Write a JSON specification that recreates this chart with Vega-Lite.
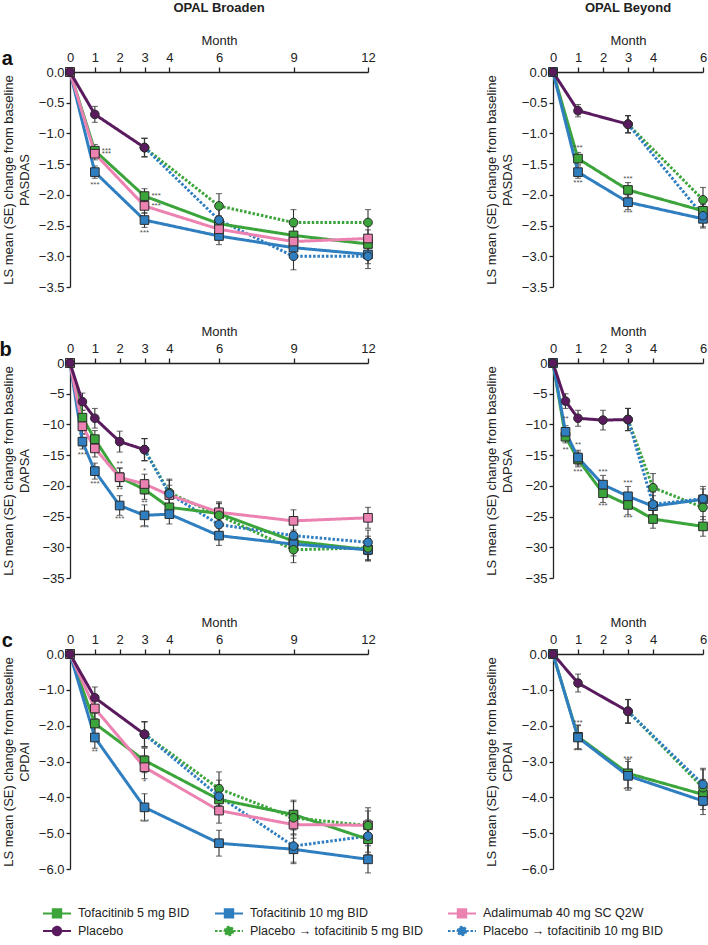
{
"$schema": "https://vega.github.io/schema/vega-lite/v6.json",
"background": "white",
"autosize": {"type": "none"},
"padding": {"left": 70, "top": 72, "right": 638, "bottom": 873},
"data": {"values": [
{"outcome":"PASDAS","study":"Broaden","group":"PT5","month":3,"mean":-1.23,"se":0.15},
{"outcome":"PASDAS","study":"Broaden","group":"PT5","month":6,"mean":-2.18,"se":0.2},
{"outcome":"PASDAS","study":"Broaden","group":"PT5","month":9,"mean":-2.45,"se":0.21},
{"outcome":"PASDAS","study":"Broaden","group":"PT5","month":12,"mean":-2.45,"se":0.21},
{"outcome":"PASDAS","study":"Broaden","group":"PT10","month":3,"mean":-1.23,"se":0.15},
{"outcome":"PASDAS","study":"Broaden","group":"PT10","month":6,"mean":-2.41,"se":0.2},
{"outcome":"PASDAS","study":"Broaden","group":"PT10","month":9,"mean":-3.0,"se":0.22},
{"outcome":"PASDAS","study":"Broaden","group":"PT10","month":12,"mean":-3.0,"se":0.2},
{"outcome":"PASDAS","study":"Broaden","group":"T5","month":0,"mean":0,"se":0},
{"outcome":"PASDAS","study":"Broaden","group":"T5","month":1,"mean":-1.28,"se":0.1,"sig":"***"},
{"outcome":"PASDAS","study":"Broaden","group":"T5","month":3,"mean":-2.02,"se":0.12,"sig":"***"},
{"outcome":"PASDAS","study":"Broaden","group":"T5","month":6,"mean":-2.47,"se":0.13},
{"outcome":"PASDAS","study":"Broaden","group":"T5","month":9,"mean":-2.66,"se":0.14},
{"outcome":"PASDAS","study":"Broaden","group":"T5","month":12,"mean":-2.8,"se":0.15},
{"outcome":"PASDAS","study":"Broaden","group":"T10","month":0,"mean":0,"se":0},
{"outcome":"PASDAS","study":"Broaden","group":"T10","month":1,"mean":-1.63,"se":0.1,"sig":"***"},
{"outcome":"PASDAS","study":"Broaden","group":"T10","month":3,"mean":-2.41,"se":0.12,"sig":"***"},
{"outcome":"PASDAS","study":"Broaden","group":"T10","month":6,"mean":-2.67,"se":0.14},
{"outcome":"PASDAS","study":"Broaden","group":"T10","month":9,"mean":-2.86,"se":0.15},
{"outcome":"PASDAS","study":"Broaden","group":"T10","month":12,"mean":-2.97,"se":0.15},
{"outcome":"PASDAS","study":"Broaden","group":"ADA","month":0,"mean":0,"se":0},
{"outcome":"PASDAS","study":"Broaden","group":"ADA","month":1,"mean":-1.33,"se":0.1,"sig":"***"},
{"outcome":"PASDAS","study":"Broaden","group":"ADA","month":3,"mean":-2.18,"se":0.12,"sig":"***"},
{"outcome":"PASDAS","study":"Broaden","group":"ADA","month":6,"mean":-2.56,"se":0.13},
{"outcome":"PASDAS","study":"Broaden","group":"ADA","month":9,"mean":-2.76,"se":0.14},
{"outcome":"PASDAS","study":"Broaden","group":"ADA","month":12,"mean":-2.71,"se":0.14},
{"outcome":"PASDAS","study":"Broaden","group":"PBO","month":0,"mean":0,"se":0},
{"outcome":"PASDAS","study":"Broaden","group":"PBO","month":1,"mean":-0.69,"se":0.13},
{"outcome":"PASDAS","study":"Broaden","group":"PBO","month":3,"mean":-1.23,"se":0.15},

{"outcome":"PASDAS","study":"Beyond","group":"PT5","month":3,"mean":-0.85,"se":0.14},
{"outcome":"PASDAS","study":"Beyond","group":"PT5","month":6,"mean":-2.08,"se":0.2},
{"outcome":"PASDAS","study":"Beyond","group":"PT10","month":3,"mean":-0.85,"se":0.14},
{"outcome":"PASDAS","study":"Beyond","group":"PT10","month":6,"mean":-2.34,"se":0.18},
{"outcome":"PASDAS","study":"Beyond","group":"T5","month":0,"mean":0,"se":0},
{"outcome":"PASDAS","study":"Beyond","group":"T5","month":1,"mean":-1.41,"se":0.1,"sig":"***"},
{"outcome":"PASDAS","study":"Beyond","group":"T5","month":3,"mean":-1.92,"se":0.12,"sig":"***"},
{"outcome":"PASDAS","study":"Beyond","group":"T5","month":6,"mean":-2.26,"se":0.14},
{"outcome":"PASDAS","study":"Beyond","group":"T10","month":0,"mean":0,"se":0},
{"outcome":"PASDAS","study":"Beyond","group":"T10","month":1,"mean":-1.63,"se":0.1,"sig":"***"},
{"outcome":"PASDAS","study":"Beyond","group":"T10","month":3,"mean":-2.12,"se":0.12,"sig":"***"},
{"outcome":"PASDAS","study":"Beyond","group":"T10","month":6,"mean":-2.39,"se":0.15},
{"outcome":"PASDAS","study":"Beyond","group":"PBO","month":0,"mean":0,"se":0},
{"outcome":"PASDAS","study":"Beyond","group":"PBO","month":1,"mean":-0.63,"se":0.1},
{"outcome":"PASDAS","study":"Beyond","group":"PBO","month":3,"mean":-0.85,"se":0.14},

{"outcome":"DAPSA","study":"Broaden","group":"PT5","month":3,"mean":-14.1,"se":1.8},
{"outcome":"DAPSA","study":"Broaden","group":"PT5","month":4,"mean":-21.1,"se":2.2},
{"outcome":"DAPSA","study":"Broaden","group":"PT5","month":6,"mean":-24.8,"se":2.0},
{"outcome":"DAPSA","study":"Broaden","group":"PT5","month":9,"mean":-30.4,"se":2.1},
{"outcome":"DAPSA","study":"Broaden","group":"PT5","month":12,"mean":-30.1,"se":1.9},
{"outcome":"DAPSA","study":"Broaden","group":"PT10","month":3,"mean":-14.1,"se":1.8},
{"outcome":"DAPSA","study":"Broaden","group":"PT10","month":4,"mean":-21.3,"se":2.2},
{"outcome":"DAPSA","study":"Broaden","group":"PT10","month":6,"mean":-26.3,"se":2.0},
{"outcome":"DAPSA","study":"Broaden","group":"PT10","month":9,"mean":-28.1,"se":2.0},
{"outcome":"DAPSA","study":"Broaden","group":"PT10","month":12,"mean":-29.2,"se":2.0},
{"outcome":"DAPSA","study":"Broaden","group":"T5","month":0,"mean":0,"se":0},
{"outcome":"DAPSA","study":"Broaden","group":"T5","month":0.5,"mean":-8.9,"se":1.2},
{"outcome":"DAPSA","study":"Broaden","group":"T5","month":1,"mean":-12.4,"se":1.4},
{"outcome":"DAPSA","study":"Broaden","group":"T5","month":2,"mean":-18.6,"se":1.5,"sig":"**"},
{"outcome":"DAPSA","study":"Broaden","group":"T5","month":3,"mean":-20.6,"se":1.6,"sig":"**"},
{"outcome":"DAPSA","study":"Broaden","group":"T5","month":4,"mean":-23.5,"se":1.6},
{"outcome":"DAPSA","study":"Broaden","group":"T5","month":6,"mean":-24.5,"se":1.6},
{"outcome":"DAPSA","study":"Broaden","group":"T5","month":9,"mean":-29.0,"se":1.8},
{"outcome":"DAPSA","study":"Broaden","group":"T5","month":12,"mean":-30.4,"se":1.8},
{"outcome":"DAPSA","study":"Broaden","group":"T10","month":0,"mean":0,"se":0},
{"outcome":"DAPSA","study":"Broaden","group":"T10","month":0.5,"mean":-12.8,"se":1.2,"sig":"***"},
{"outcome":"DAPSA","study":"Broaden","group":"T10","month":1,"mean":-17.6,"se":1.3,"sig":"***"},
{"outcome":"DAPSA","study":"Broaden","group":"T10","month":2,"mean":-23.2,"se":1.6,"sig":"***"},
{"outcome":"DAPSA","study":"Broaden","group":"T10","month":3,"mean":-24.8,"se":1.7,"sig":"***"},
{"outcome":"DAPSA","study":"Broaden","group":"T10","month":4,"mean":-24.6,"se":1.6},
{"outcome":"DAPSA","study":"Broaden","group":"T10","month":6,"mean":-28.1,"se":1.6},
{"outcome":"DAPSA","study":"Broaden","group":"T10","month":9,"mean":-29.5,"se":1.9},
{"outcome":"DAPSA","study":"Broaden","group":"T10","month":12,"mean":-30.4,"se":1.8},
{"outcome":"DAPSA","study":"Broaden","group":"ADA","month":0,"mean":0,"se":0},
{"outcome":"DAPSA","study":"Broaden","group":"ADA","month":0.5,"mean":-10.3,"se":1.2},
{"outcome":"DAPSA","study":"Broaden","group":"ADA","month":1,"mean":-13.9,"se":1.4},
{"outcome":"DAPSA","study":"Broaden","group":"ADA","month":2,"mean":-18.6,"se":1.5,"sig":"**"},
{"outcome":"DAPSA","study":"Broaden","group":"ADA","month":3,"mean":-19.7,"se":1.6,"sig":"*"},
{"outcome":"DAPSA","study":"Broaden","group":"ADA","month":4,"mean":-21.5,"se":1.6},
{"outcome":"DAPSA","study":"Broaden","group":"ADA","month":6,"mean":-24.3,"se":1.7},
{"outcome":"DAPSA","study":"Broaden","group":"ADA","month":9,"mean":-25.7,"se":1.8},
{"outcome":"DAPSA","study":"Broaden","group":"ADA","month":12,"mean":-25.2,"se":1.7},
{"outcome":"DAPSA","study":"Broaden","group":"PBO","month":0,"mean":0,"se":0},
{"outcome":"DAPSA","study":"Broaden","group":"PBO","month":0.5,"mean":-6.3,"se":1.4},
{"outcome":"DAPSA","study":"Broaden","group":"PBO","month":1,"mean":-9.0,"se":1.6},
{"outcome":"DAPSA","study":"Broaden","group":"PBO","month":2,"mean":-12.8,"se":1.7},
{"outcome":"DAPSA","study":"Broaden","group":"PBO","month":3,"mean":-14.1,"se":1.8},

{"outcome":"DAPSA","study":"Beyond","group":"PT5","month":3,"mean":-9.2,"se":1.8},
{"outcome":"DAPSA","study":"Beyond","group":"PT5","month":4,"mean":-20.3,"se":2.3},
{"outcome":"DAPSA","study":"Beyond","group":"PT5","month":6,"mean":-23.5,"se":2.0},
{"outcome":"DAPSA","study":"Beyond","group":"PT10","month":3,"mean":-9.2,"se":1.8},
{"outcome":"DAPSA","study":"Beyond","group":"PT10","month":4,"mean":-23.0,"se":2.0},
{"outcome":"DAPSA","study":"Beyond","group":"PT10","month":6,"mean":-22.1,"se":2.0},
{"outcome":"DAPSA","study":"Beyond","group":"T5","month":0,"mean":0,"se":0},
{"outcome":"DAPSA","study":"Beyond","group":"T5","month":0.5,"mean":-12.0,"se":1.0,"sig":"**"},
{"outcome":"DAPSA","study":"Beyond","group":"T5","month":1,"mean":-15.7,"se":1.2,"sig":"***"},
{"outcome":"DAPSA","study":"Beyond","group":"T5","month":2,"mean":-21.2,"se":1.5,"sig":"***"},
{"outcome":"DAPSA","study":"Beyond","group":"T5","month":3,"mean":-23.1,"se":1.6,"sig":"***"},
{"outcome":"DAPSA","study":"Beyond","group":"T5","month":4,"mean":-25.4,"se":1.5},
{"outcome":"DAPSA","study":"Beyond","group":"T5","month":6,"mean":-26.6,"se":1.6},
{"outcome":"DAPSA","study":"Beyond","group":"T10","month":0,"mean":0,"se":0},
{"outcome":"DAPSA","study":"Beyond","group":"T10","month":0.5,"mean":-11.2,"se":1.0,"sig":"**"},
{"outcome":"DAPSA","study":"Beyond","group":"T10","month":1,"mean":-15.4,"se":1.2,"sig":"**"},
{"outcome":"DAPSA","study":"Beyond","group":"T10","month":2,"mean":-19.8,"se":1.5,"sig":"***"},
{"outcome":"DAPSA","study":"Beyond","group":"T10","month":3,"mean":-21.7,"se":1.6,"sig":"***"},
{"outcome":"DAPSA","study":"Beyond","group":"T10","month":4,"mean":-23.3,"se":1.7},
{"outcome":"DAPSA","study":"Beyond","group":"T10","month":6,"mean":-22.2,"se":1.7},
{"outcome":"DAPSA","study":"Beyond","group":"PBO","month":0,"mean":0,"se":0},
{"outcome":"DAPSA","study":"Beyond","group":"PBO","month":0.5,"mean":-6.2,"se":1.2},
{"outcome":"DAPSA","study":"Beyond","group":"PBO","month":1,"mean":-9.0,"se":1.3},
{"outcome":"DAPSA","study":"Beyond","group":"PBO","month":2,"mean":-9.3,"se":1.6},
{"outcome":"DAPSA","study":"Beyond","group":"PBO","month":3,"mean":-9.2,"se":1.8},

{"outcome":"CPDAI","study":"Broaden","group":"PT5","month":3,"mean":-2.24,"se":0.35},
{"outcome":"CPDAI","study":"Broaden","group":"PT5","month":6,"mean":-3.76,"se":0.47},
{"outcome":"CPDAI","study":"Broaden","group":"PT5","month":9,"mean":-4.57,"se":0.45},
{"outcome":"CPDAI","study":"Broaden","group":"PT5","month":12,"mean":-4.79,"se":0.5},
{"outcome":"CPDAI","study":"Broaden","group":"PT10","month":3,"mean":-2.24,"se":0.35},
{"outcome":"CPDAI","study":"Broaden","group":"PT10","month":6,"mean":-3.97,"se":0.45},
{"outcome":"CPDAI","study":"Broaden","group":"PT10","month":9,"mean":-5.36,"se":0.45},
{"outcome":"CPDAI","study":"Broaden","group":"PT10","month":12,"mean":-5.08,"se":0.45},
{"outcome":"CPDAI","study":"Broaden","group":"T5","month":0,"mean":0,"se":0},
{"outcome":"CPDAI","study":"Broaden","group":"T5","month":1,"mean":-1.94,"se":0.28},
{"outcome":"CPDAI","study":"Broaden","group":"T5","month":3,"mean":-2.97,"se":0.34},
{"outcome":"CPDAI","study":"Broaden","group":"T5","month":6,"mean":-4.06,"se":0.4},
{"outcome":"CPDAI","study":"Broaden","group":"T5","month":9,"mean":-4.48,"se":0.4},
{"outcome":"CPDAI","study":"Broaden","group":"T5","month":12,"mean":-5.17,"se":0.42},
{"outcome":"CPDAI","study":"Broaden","group":"T10","month":0,"mean":0,"se":0},
{"outcome":"CPDAI","study":"Broaden","group":"T10","month":1,"mean":-2.33,"se":0.3,"sig":"**"},
{"outcome":"CPDAI","study":"Broaden","group":"T10","month":3,"mean":-4.28,"se":0.38,"sig":"***"},
{"outcome":"CPDAI","study":"Broaden","group":"T10","month":6,"mean":-5.28,"se":0.36},
{"outcome":"CPDAI","study":"Broaden","group":"T10","month":9,"mean":-5.45,"se":0.4},
{"outcome":"CPDAI","study":"Broaden","group":"T10","month":12,"mean":-5.73,"se":0.38},
{"outcome":"CPDAI","study":"Broaden","group":"ADA","month":0,"mean":0,"se":0},
{"outcome":"CPDAI","study":"Broaden","group":"ADA","month":1,"mean":-1.52,"se":0.28},
{"outcome":"CPDAI","study":"Broaden","group":"ADA","month":3,"mean":-3.16,"se":0.32,"sig":"*"},
{"outcome":"CPDAI","study":"Broaden","group":"ADA","month":6,"mean":-4.37,"se":0.35},
{"outcome":"CPDAI","study":"Broaden","group":"ADA","month":9,"mean":-4.76,"se":0.38},
{"outcome":"CPDAI","study":"Broaden","group":"ADA","month":12,"mean":-4.78,"se":0.4},
{"outcome":"CPDAI","study":"Broaden","group":"PBO","month":0,"mean":0,"se":0},
{"outcome":"CPDAI","study":"Broaden","group":"PBO","month":1,"mean":-1.22,"se":0.3},
{"outcome":"CPDAI","study":"Broaden","group":"PBO","month":3,"mean":-2.24,"se":0.35},

{"outcome":"CPDAI","study":"Beyond","group":"PT5","month":3,"mean":-1.6,"se":0.33},
{"outcome":"CPDAI","study":"Beyond","group":"PT5","month":6,"mean":-3.73,"se":0.5},
{"outcome":"CPDAI","study":"Beyond","group":"PT10","month":3,"mean":-1.6,"se":0.33},
{"outcome":"CPDAI","study":"Beyond","group":"PT10","month":6,"mean":-3.64,"se":0.45},
{"outcome":"CPDAI","study":"Beyond","group":"T5","month":0,"mean":0,"se":0},
{"outcome":"CPDAI","study":"Beyond","group":"T5","month":1,"mean":-2.31,"se":0.33,"sig":"***"},
{"outcome":"CPDAI","study":"Beyond","group":"T5","month":3,"mean":-3.33,"se":0.4,"sig":"***"},
{"outcome":"CPDAI","study":"Beyond","group":"T5","month":6,"mean":-3.92,"se":0.42},
{"outcome":"CPDAI","study":"Beyond","group":"T10","month":0,"mean":0,"se":0},
{"outcome":"CPDAI","study":"Beyond","group":"T10","month":1,"mean":-2.33,"se":0.33,"sig":"***"},
{"outcome":"CPDAI","study":"Beyond","group":"T10","month":3,"mean":-3.4,"se":0.4,"sig":"***"},
{"outcome":"CPDAI","study":"Beyond","group":"T10","month":6,"mean":-4.1,"se":0.38},
{"outcome":"CPDAI","study":"Beyond","group":"PBO","month":0,"mean":0,"se":0},
{"outcome":"CPDAI","study":"Beyond","group":"PBO","month":1,"mean":-0.81,"se":0.25},
{"outcome":"CPDAI","study":"Beyond","group":"PBO","month":3,"mean":-1.6,"se":0.33}
]},
"spacing": 31,
"resolve": {"scale": {"x": "independent", "y": "independent"}},
"vconcat": [
{
 "title": {"text": "a", "orient": "left", "anchor": "end", "angle": 0, "baseline": "alphabetic", "fontSize": 20, "fontWeight": "bold", "color": "#111", "offset": -22, "dy": -7, "frame": "group"},
 "spacing": 185, "bounds": "flush",
 "resolve": {"scale": {"x": "independent", "y": "independent"}},
 "hconcat": [
  {
   "width": 298, "height": 215,
   "title": {"text": "OPAL Broaden", "offset": 19},
   "transform": [{"filter": "datum.outcome === 'PASDAS' && datum.study === 'Broaden'"}],
   "encoding": {
     "x": {"field": "month", "type": "quantitative", "scale": {"domain": [0, 12], "nice": false}, "axis": {"orient": "top", "title": "Month", "values": [0,1,2,3,4,6,9,12]}},
     "y": {"field": "mean", "type": "quantitative", "scale": {"domain": [-3.5, 0], "nice": false}, "axis": {"values": [0,-0.5,-1,-1.5,-2,-2.5,-3,-3.5], "format": ".1f", "title": ["LS mean (SE) change from baseline", "PASDAS"]}}
   },
   "layer": [
    {"transform": [{"filter": "false"}], "mark": {"type": "point", "filled": true, "size": 196, "strokeWidth": 2, "opacity": 1}, "encoding": {
      "color": {"field": "group", "type": "nominal", "scale": {"domain": ["T5","T10","ADA","PBO","PT5","PT10"], "range": ["#3ba43a","#2f7ec0","#ec82b1","#5a1a5e","#3ba43a","#2f7ec0"]},
        "legend": {"orient": "none", "legendX": -21, "legendY": 833, "direction": "horizontal", "columns": 3, "title": null, "symbolSize": 196, "symbolStrokeWidth": 2, "labelOffset": 13, "columnPadding": 21, "rowPadding": 0, "padding": 0,
          "labelExpr": "datum.value === 'T5' ? 'Tofacitinib 5 mg BID' : datum.value === 'T10' ? 'Tofacitinib 10 mg BID' : datum.value === 'ADA' ? 'Adalimumab 40 mg SC Q2W' : datum.value === 'PBO' ? 'Placebo' : datum.value === 'PT5' ? 'Placebo → tofacitinib 5 mg BID' : 'Placebo → tofacitinib 10 mg BID'"}},
      "stroke": {"field": "group", "type": "nominal", "scale": {"domain": ["T5","T10","ADA","PBO","PT5","PT10"], "range": ["#3ba43a","#2f7ec0","#ec82b1","#5a1a5e","#3ba43a","#2f7ec0"]}},
      "shape": {"field": "group", "type": "nominal", "scale": {"domain": ["T5","T10","ADA","PBO","PT5","PT10"], "range": ["M-2,0L-0.6,0M0.6,0L2,0M-0.6,-0.6L0.6,-0.6L0.6,0.6L-0.6,0.6Z","M-2,0L-0.6,0M0.6,0L2,0M-0.6,-0.6L0.6,-0.6L0.6,0.6L-0.6,0.6Z","M-2,0L-0.6,0M0.6,0L2,0M-0.6,-0.6L0.6,-0.6L0.6,0.6L-0.6,0.6Z","M-2,0L-0.6,0M0.6,0L2,0M-0.6,0A0.6,0.6,0,1,1,0.6,0A0.6,0.6,0,1,1,-0.6,0Z","M-2,0L-0.6,0M0.6,0L2,0M-0.6,0A0.6,0.6,0,1,1,0.6,0A0.6,0.6,0,1,1,-0.6,0Z","M-2,0L-0.6,0M0.6,0L2,0M-0.6,0A0.6,0.6,0,1,1,0.6,0A0.6,0.6,0,1,1,-0.6,0Z"]}},
      "strokeDash": {"field": "group", "type": "nominal", "scale": {"domain": ["T5","T10","ADA","PBO","PT5","PT10"], "range": [[1,0],[1,0],[1,0],[1,0],[2.5,1.8],[2.5,1.8]]}}}},
    {"mark": {"type": "errorbar", "color": "#333", "thickness": 1.1, "ticks": {"size": 6, "color": "#333", "thickness": 1.1}}, "encoding": {"yError": {"field": "se"}}},
    {"mark": {"type": "line", "strokeWidth": 3, "strokeJoin": "round"}, "encoding": {
      "color": {"field": "group", "type": "nominal", "scale": {"domain": ["T5","T10","ADA","PBO","PT5","PT10"], "range": ["#3ba43a","#2f7ec0","#ec82b1","#5a1a5e","#3ba43a","#2f7ec0"]}},
      "strokeDash": {"field": "group", "type": "nominal", "scale": {"domain": ["T5","T10","ADA","PBO","PT5","PT10"], "range": [[1,0],[1,0],[1,0],[1,0],[2.5,1.8],[2.5,1.8]]}}}},
    {"transform": [{"filter": "datum.group === 'T5' || datum.group === 'T10' || datum.group === 'ADA'"}], "mark": {"type": "point", "shape": "square", "filled": true, "size": 75, "stroke": "#2b2b2b", "strokeWidth": 1, "opacity": 1}, "encoding": {
      "color": {"field": "group", "type": "nominal", "scale": {"domain": ["T5","T10","ADA","PBO","PT5","PT10"], "range": ["#3ba43a","#2f7ec0","#ec82b1","#5a1a5e","#3ba43a","#2f7ec0"]}}}},
    {"transform": [{"filter": "datum.group === 'PBO' || datum.group === 'PT5' || datum.group === 'PT10'"}], "mark": {"type": "point", "shape": "circle", "filled": true, "size": 75, "stroke": "#2b2b2b", "strokeWidth": 1, "opacity": 1}, "encoding": {
      "color": {"field": "group", "type": "nominal", "scale": {"domain": ["T5","T10","ADA","PBO","PT5","PT10"], "range": ["#3ba43a","#2f7ec0","#ec82b1","#5a1a5e","#3ba43a","#2f7ec0"]}}}},
    {"transform": [{"filter": "datum.sig && (datum.group === 'T5' || datum.group === 'ADA')"}], "mark": {"type": "text", "align": "left", "dx": 7, "fontSize": 8, "color": "#555"}, "encoding": {"text": {"field": "sig"}}},
    {"transform": [{"filter": "datum.sig && datum.group === 'T10'"}], "mark": {"type": "text", "dy": 13, "fontSize": 8, "color": "#555"}, "encoding": {"text": {"field": "sig"}}}
   ]
  },
  {
   "width": 150, "height": 215,
   "title": {"text": "OPAL Beyond", "offset": 19},
   "transform": [{"filter": "datum.outcome === 'PASDAS' && datum.study === 'Beyond'"}],
   "encoding": {
     "x": {"field": "month", "type": "quantitative", "scale": {"domain": [0, 6], "nice": false}, "axis": {"orient": "top", "title": "Month", "values": [0,1,2,3,4,6]}},
     "y": {"field": "mean", "type": "quantitative", "scale": {"domain": [-3.5, 0], "nice": false}, "axis": {"values": [0,-0.5,-1,-1.5,-2,-2.5,-3,-3.5], "format": ".1f", "title": ["LS mean (SE) change from baseline", "PASDAS"]}}
   },
   "layer": [
    {"mark": {"type": "errorbar", "color": "#333", "thickness": 1.1, "ticks": {"size": 6, "color": "#333", "thickness": 1.1}}, "encoding": {"yError": {"field": "se"}}},
    {"mark": {"type": "line", "strokeWidth": 3, "strokeJoin": "round"}, "encoding": {
      "color": {"field": "group", "type": "nominal", "scale": {"domain": ["T5","T10","ADA","PBO","PT5","PT10"], "range": ["#3ba43a","#2f7ec0","#ec82b1","#5a1a5e","#3ba43a","#2f7ec0"]}},
      "strokeDash": {"field": "group", "type": "nominal", "scale": {"domain": ["T5","T10","ADA","PBO","PT5","PT10"], "range": [[1,0],[1,0],[1,0],[1,0],[2.5,1.8],[2.5,1.8]]}}}},
    {"transform": [{"filter": "datum.group === 'T5' || datum.group === 'T10' || datum.group === 'ADA'"}], "mark": {"type": "point", "shape": "square", "filled": true, "size": 75, "stroke": "#2b2b2b", "strokeWidth": 1, "opacity": 1}, "encoding": {
      "color": {"field": "group", "type": "nominal", "scale": {"domain": ["T5","T10","ADA","PBO","PT5","PT10"], "range": ["#3ba43a","#2f7ec0","#ec82b1","#5a1a5e","#3ba43a","#2f7ec0"]}}}},
    {"transform": [{"filter": "datum.group === 'PBO' || datum.group === 'PT5' || datum.group === 'PT10'"}], "mark": {"type": "point", "shape": "circle", "filled": true, "size": 75, "stroke": "#2b2b2b", "strokeWidth": 1, "opacity": 1}, "encoding": {
      "color": {"field": "group", "type": "nominal", "scale": {"domain": ["T5","T10","ADA","PBO","PT5","PT10"], "range": ["#3ba43a","#2f7ec0","#ec82b1","#5a1a5e","#3ba43a","#2f7ec0"]}}}},
    {"transform": [{"filter": "datum.sig && datum.group === 'T5'"}], "mark": {"type": "text", "dy": -11, "fontSize": 8, "color": "#555"}, "encoding": {"text": {"field": "sig"}}},
    {"transform": [{"filter": "datum.sig && datum.group === 'T10'"}], "mark": {"type": "text", "dy": 11, "fontSize": 8, "color": "#555"}, "encoding": {"text": {"field": "sig"}}}
   ]
  }
 ]
},
{
 "title": {"text": "b", "orient": "left", "anchor": "end", "angle": 0, "baseline": "alphabetic", "fontSize": 20, "fontWeight": "bold", "color": "#111", "offset": -22, "dy": -7, "frame": "group"},
 "spacing": 185, "bounds": "flush",
 "resolve": {"scale": {"x": "independent", "y": "independent"}},
 "hconcat": [
  {
   "width": 298, "height": 215,
   "transform": [{"filter": "datum.outcome === 'DAPSA' && datum.study === 'Broaden'"}],
   "encoding": {
     "x": {"field": "month", "type": "quantitative", "scale": {"domain": [0, 12], "nice": false}, "axis": {"orient": "top", "title": "Month", "values": [0,1,2,3,4,6,9,12]}},
     "y": {"field": "mean", "type": "quantitative", "scale": {"domain": [-35, 0], "nice": false}, "axis": {"values": [0,-5,-10,-15,-20,-25,-30,-35], "format": "d", "title": ["LS mean (SE) change from baseline", "DAPSA"]}}
   },
   "layer": [
    {"mark": {"type": "errorbar", "color": "#333", "thickness": 1.1, "ticks": {"size": 6, "color": "#333", "thickness": 1.1}}, "encoding": {"yError": {"field": "se"}}},
    {"mark": {"type": "line", "strokeWidth": 3, "strokeJoin": "round"}, "encoding": {
      "color": {"field": "group", "type": "nominal", "scale": {"domain": ["T5","T10","ADA","PBO","PT5","PT10"], "range": ["#3ba43a","#2f7ec0","#ec82b1","#5a1a5e","#3ba43a","#2f7ec0"]}},
      "strokeDash": {"field": "group", "type": "nominal", "scale": {"domain": ["T5","T10","ADA","PBO","PT5","PT10"], "range": [[1,0],[1,0],[1,0],[1,0],[2.5,1.8],[2.5,1.8]]}}}},
    {"transform": [{"filter": "datum.group === 'T5' || datum.group === 'T10' || datum.group === 'ADA'"}], "mark": {"type": "point", "shape": "square", "filled": true, "size": 75, "stroke": "#2b2b2b", "strokeWidth": 1, "opacity": 1}, "encoding": {
      "color": {"field": "group", "type": "nominal", "scale": {"domain": ["T5","T10","ADA","PBO","PT5","PT10"], "range": ["#3ba43a","#2f7ec0","#ec82b1","#5a1a5e","#3ba43a","#2f7ec0"]}}}},
    {"transform": [{"filter": "datum.group === 'PBO' || datum.group === 'PT5' || datum.group === 'PT10'"}], "mark": {"type": "point", "shape": "circle", "filled": true, "size": 75, "stroke": "#2b2b2b", "strokeWidth": 1, "opacity": 1}, "encoding": {
      "color": {"field": "group", "type": "nominal", "scale": {"domain": ["T5","T10","ADA","PBO","PT5","PT10"], "range": ["#3ba43a","#2f7ec0","#ec82b1","#5a1a5e","#3ba43a","#2f7ec0"]}}}},
    {"transform": [{"filter": "datum.sig && datum.group === 'ADA'"}], "mark": {"type": "text", "dy": -13, "fontSize": 8, "color": "#555"}, "encoding": {"text": {"field": "sig"}}},
    {"transform": [{"filter": "datum.sig && (datum.group === 'T5' || datum.group === 'T10')"}], "mark": {"type": "text", "dy": 13, "fontSize": 8, "color": "#555"}, "encoding": {"text": {"field": "sig"}}}
   ]
  },
  {
   "width": 150, "height": 215,
   "transform": [{"filter": "datum.outcome === 'DAPSA' && datum.study === 'Beyond'"}],
   "encoding": {
     "x": {"field": "month", "type": "quantitative", "scale": {"domain": [0, 6], "nice": false}, "axis": {"orient": "top", "title": "Month", "values": [0,1,2,3,4,6]}},
     "y": {"field": "mean", "type": "quantitative", "scale": {"domain": [-35, 0], "nice": false}, "axis": {"values": [0,-5,-10,-15,-20,-25,-30,-35], "format": "d", "title": ["LS mean (SE) change from baseline", "DAPSA"]}}
   },
   "layer": [
    {"mark": {"type": "errorbar", "color": "#333", "thickness": 1.1, "ticks": {"size": 6, "color": "#333", "thickness": 1.1}}, "encoding": {"yError": {"field": "se"}}},
    {"mark": {"type": "line", "strokeWidth": 3, "strokeJoin": "round"}, "encoding": {
      "color": {"field": "group", "type": "nominal", "scale": {"domain": ["T5","T10","ADA","PBO","PT5","PT10"], "range": ["#3ba43a","#2f7ec0","#ec82b1","#5a1a5e","#3ba43a","#2f7ec0"]}},
      "strokeDash": {"field": "group", "type": "nominal", "scale": {"domain": ["T5","T10","ADA","PBO","PT5","PT10"], "range": [[1,0],[1,0],[1,0],[1,0],[2.5,1.8],[2.5,1.8]]}}}},
    {"transform": [{"filter": "datum.group === 'T5' || datum.group === 'T10' || datum.group === 'ADA'"}], "mark": {"type": "point", "shape": "square", "filled": true, "size": 75, "stroke": "#2b2b2b", "strokeWidth": 1, "opacity": 1}, "encoding": {
      "color": {"field": "group", "type": "nominal", "scale": {"domain": ["T5","T10","ADA","PBO","PT5","PT10"], "range": ["#3ba43a","#2f7ec0","#ec82b1","#5a1a5e","#3ba43a","#2f7ec0"]}}}},
    {"transform": [{"filter": "datum.group === 'PBO' || datum.group === 'PT5' || datum.group === 'PT10'"}], "mark": {"type": "point", "shape": "circle", "filled": true, "size": 75, "stroke": "#2b2b2b", "strokeWidth": 1, "opacity": 1}, "encoding": {
      "color": {"field": "group", "type": "nominal", "scale": {"domain": ["T5","T10","ADA","PBO","PT5","PT10"], "range": ["#3ba43a","#2f7ec0","#ec82b1","#5a1a5e","#3ba43a","#2f7ec0"]}}}},
    {"transform": [{"filter": "datum.sig && datum.group === 'T10'"}], "mark": {"type": "text", "dy": -13, "fontSize": 8, "color": "#555"}, "encoding": {"text": {"field": "sig"}}},
    {"transform": [{"filter": "datum.sig && datum.group === 'T5'"}], "mark": {"type": "text", "dy": 13, "fontSize": 8, "color": "#555"}, "encoding": {"text": {"field": "sig"}}}
   ]
  }
 ]
},
{
 "title": {"text": "c", "orient": "left", "anchor": "end", "angle": 0, "baseline": "alphabetic", "fontSize": 20, "fontWeight": "bold", "color": "#111", "offset": -22, "dy": -7, "frame": "group"},
 "spacing": 185, "bounds": "flush",
 "resolve": {"scale": {"x": "independent", "y": "independent"}},
 "hconcat": [
  {
   "width": 298, "height": 215,
   "transform": [{"filter": "datum.outcome === 'CPDAI' && datum.study === 'Broaden'"}],
   "encoding": {
     "x": {"field": "month", "type": "quantitative", "scale": {"domain": [0, 12], "nice": false}, "axis": {"orient": "top", "title": "Month", "values": [0,1,2,3,4,6,9,12]}},
     "y": {"field": "mean", "type": "quantitative", "scale": {"domain": [-6, 0], "nice": false}, "axis": {"values": [0,-1,-2,-3,-4,-5,-6], "format": ".1f", "title": ["LS mean (SE) change from baseline", "CPDAI"]}}
   },
   "layer": [
    {"mark": {"type": "errorbar", "color": "#333", "thickness": 1.1, "ticks": {"size": 6, "color": "#333", "thickness": 1.1}}, "encoding": {"yError": {"field": "se"}}},
    {"mark": {"type": "line", "strokeWidth": 3, "strokeJoin": "round"}, "encoding": {
      "color": {"field": "group", "type": "nominal", "scale": {"domain": ["T5","T10","ADA","PBO","PT5","PT10"], "range": ["#3ba43a","#2f7ec0","#ec82b1","#5a1a5e","#3ba43a","#2f7ec0"]}},
      "strokeDash": {"field": "group", "type": "nominal", "scale": {"domain": ["T5","T10","ADA","PBO","PT5","PT10"], "range": [[1,0],[1,0],[1,0],[1,0],[2.5,1.8],[2.5,1.8]]}}}},
    {"transform": [{"filter": "datum.group === 'T5' || datum.group === 'T10' || datum.group === 'ADA'"}], "mark": {"type": "point", "shape": "square", "filled": true, "size": 75, "stroke": "#2b2b2b", "strokeWidth": 1, "opacity": 1}, "encoding": {
      "color": {"field": "group", "type": "nominal", "scale": {"domain": ["T5","T10","ADA","PBO","PT5","PT10"], "range": ["#3ba43a","#2f7ec0","#ec82b1","#5a1a5e","#3ba43a","#2f7ec0"]}}}},
    {"transform": [{"filter": "datum.group === 'PBO' || datum.group === 'PT5' || datum.group === 'PT10'"}], "mark": {"type": "point", "shape": "circle", "filled": true, "size": 75, "stroke": "#2b2b2b", "strokeWidth": 1, "opacity": 1}, "encoding": {
      "color": {"field": "group", "type": "nominal", "scale": {"domain": ["T5","T10","ADA","PBO","PT5","PT10"], "range": ["#3ba43a","#2f7ec0","#ec82b1","#5a1a5e","#3ba43a","#2f7ec0"]}}}},
    {"transform": [{"filter": "datum.sig && (datum.group === 'T10' || datum.group === 'ADA')"}], "mark": {"type": "text", "dy": 15, "fontSize": 8, "color": "#555"}, "encoding": {"text": {"field": "sig"}}}
   ]
  },
  {
   "width": 150, "height": 215,
   "transform": [{"filter": "datum.outcome === 'CPDAI' && datum.study === 'Beyond'"}],
   "encoding": {
     "x": {"field": "month", "type": "quantitative", "scale": {"domain": [0, 6], "nice": false}, "axis": {"orient": "top", "title": "Month", "values": [0,1,2,3,4,6]}},
     "y": {"field": "mean", "type": "quantitative", "scale": {"domain": [-6, 0], "nice": false}, "axis": {"values": [0,-1,-2,-3,-4,-5,-6], "format": ".1f", "title": ["LS mean (SE) change from baseline", "CPDAI"]}}
   },
   "layer": [
    {"mark": {"type": "errorbar", "color": "#333", "thickness": 1.1, "ticks": {"size": 6, "color": "#333", "thickness": 1.1}}, "encoding": {"yError": {"field": "se"}}},
    {"mark": {"type": "line", "strokeWidth": 3, "strokeJoin": "round"}, "encoding": {
      "color": {"field": "group", "type": "nominal", "scale": {"domain": ["T5","T10","ADA","PBO","PT5","PT10"], "range": ["#3ba43a","#2f7ec0","#ec82b1","#5a1a5e","#3ba43a","#2f7ec0"]}},
      "strokeDash": {"field": "group", "type": "nominal", "scale": {"domain": ["T5","T10","ADA","PBO","PT5","PT10"], "range": [[1,0],[1,0],[1,0],[1,0],[2.5,1.8],[2.5,1.8]]}}}},
    {"transform": [{"filter": "datum.group === 'T5' || datum.group === 'T10' || datum.group === 'ADA'"}], "mark": {"type": "point", "shape": "square", "filled": true, "size": 75, "stroke": "#2b2b2b", "strokeWidth": 1, "opacity": 1}, "encoding": {
      "color": {"field": "group", "type": "nominal", "scale": {"domain": ["T5","T10","ADA","PBO","PT5","PT10"], "range": ["#3ba43a","#2f7ec0","#ec82b1","#5a1a5e","#3ba43a","#2f7ec0"]}}}},
    {"transform": [{"filter": "datum.group === 'PBO' || datum.group === 'PT5' || datum.group === 'PT10'"}], "mark": {"type": "point", "shape": "circle", "filled": true, "size": 75, "stroke": "#2b2b2b", "strokeWidth": 1, "opacity": 1}, "encoding": {
      "color": {"field": "group", "type": "nominal", "scale": {"domain": ["T5","T10","ADA","PBO","PT5","PT10"], "range": ["#3ba43a","#2f7ec0","#ec82b1","#5a1a5e","#3ba43a","#2f7ec0"]}}}},
    {"transform": [{"filter": "datum.sig && datum.group === 'T5'"}], "mark": {"type": "text", "dy": -14, "fontSize": 8, "color": "#555"}, "encoding": {"text": {"field": "sig"}}},
    {"transform": [{"filter": "datum.sig && datum.group === 'T10'"}], "mark": {"type": "text", "dy": 14, "fontSize": 8, "color": "#555"}, "encoding": {"text": {"field": "sig"}}}
   ]
  }
 ]
}
],
"config": {
 "font": "Liberation Sans",
 "view": {"stroke": null},
 "axis": {"grid": false, "domainColor": "#222", "domainWidth": 1.3, "tickColor": "#222", "tickWidth": 1.3, "tickSize": 5, "labelFont": "Liberation Sans", "labelFontSize": 13, "labelColor": "#222", "titleFont": "Liberation Sans", "titleFontSize": 13, "titleFontWeight": "normal", "titleColor": "#222", "labelFlush": false, "labelOverlap": false},
 "axisX": {"labelPadding": 3, "titlePadding": 4},
 "axisY": {"labelPadding": 2, "titlePadding": 11, "titleLineHeight": 16, "tickSize": 4, "minExtent": 28, "maxExtent": 28},
 "title": {"fontSize": 13, "fontWeight": "bold", "color": "#222", "font": "Liberation Sans", "baseline": "alphabetic"},
 "legend": {"labelFont": "Liberation Sans", "labelFontSize": 12.5, "labelColor": "#222", "labelLimit": 400}
}
}
